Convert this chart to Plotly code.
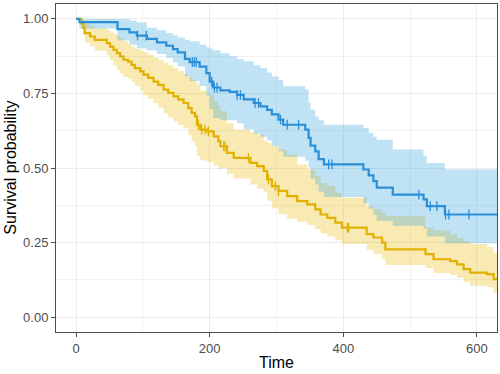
import numpy as np
import plotly.graph_objects as go

# ---- Group 1 (yellow/orange) ----
t1 = [0, 8, 11, 13, 21, 28, 46, 51, 56, 61, 66, 71, 78, 83, 88, 96, 101, 108, 116, 123,
      131, 138, 146, 153, 161, 168, 173, 178, 181, 186, 196, 206, 213, 216, 226, 236, 261,
      271, 281, 286, 293, 303, 316, 331, 346, 358, 366, 376, 388, 398, 435, 445, 458, 463,
      523, 535, 560, 570, 580, 590, 615, 625, 660]
s1 = [1.000, 0.985, 0.970, 0.952, 0.941, 0.930, 0.919, 0.907, 0.896, 0.885, 0.874, 0.863,
      0.857, 0.846, 0.835, 0.824, 0.813, 0.802, 0.790, 0.779, 0.763, 0.752, 0.740, 0.729,
      0.718, 0.701, 0.685, 0.673, 0.645, 0.629, 0.623, 0.606, 0.590, 0.573, 0.551, 0.534,
      0.517, 0.506, 0.490, 0.462, 0.439, 0.423, 0.406, 0.389, 0.378, 0.361, 0.344, 0.333,
      0.317, 0.300, 0.278, 0.267, 0.250, 0.227, 0.211, 0.194, 0.188, 0.177, 0.161, 0.149,
      0.144, 0.127, 0.127]
lo1 = [1.000, 0.965, 0.946, 0.920, 0.908, 0.893, 0.877, 0.862, 0.845, 0.829, 0.817, 0.805,
       0.800, 0.789, 0.775, 0.760, 0.744, 0.731, 0.717, 0.703, 0.683, 0.669, 0.656, 0.644,
       0.633, 0.610, 0.589, 0.573, 0.540, 0.525, 0.520, 0.508, 0.495, 0.500, 0.480, 0.465,
       0.445, 0.430, 0.420, 0.390, 0.365, 0.345, 0.330, 0.320, 0.310, 0.295, 0.280, 0.270,
       0.258, 0.245, 0.225, 0.212, 0.195, 0.175, 0.165, 0.148, 0.142, 0.132, 0.118, 0.105,
       0.100, 0.080, 0.080]
hi1 = [1.000, 1.000, 0.995, 0.985, 0.975, 0.969, 0.963, 0.955, 0.950, 0.945, 0.935, 0.925,
       0.915, 0.907, 0.900, 0.893, 0.888, 0.880, 0.870, 0.863, 0.853, 0.845, 0.835, 0.825,
       0.815, 0.805, 0.796, 0.790, 0.779, 0.760, 0.746, 0.723, 0.707, 0.690, 0.650, 0.629,
       0.620, 0.612, 0.590, 0.584, 0.575, 0.562, 0.545, 0.512, 0.495, 0.473, 0.450, 0.440,
       0.417, 0.400, 0.372, 0.362, 0.350, 0.339, 0.300, 0.290, 0.278, 0.265, 0.255, 0.245,
       0.235, 0.216, 0.216]
c1 = [183, 188, 193, 198, 221, 223, 258, 288, 298, 303, 406, 408]

# ---- Group 2 (blue) ----
t2 = [0, 5, 62, 80, 91, 106, 121, 135, 145, 152, 163, 170, 185, 195, 200, 205, 216, 230,
      241, 251, 266, 276, 286, 293, 303, 310, 343, 348, 351, 358, 363, 371, 430, 438, 445,
      450, 474, 520, 525, 552, 660]
s2 = [1.000, 0.989, 0.966, 0.955, 0.944, 0.933, 0.921, 0.910, 0.899, 0.888, 0.866, 0.855,
      0.840, 0.818, 0.790, 0.770, 0.760, 0.755, 0.745, 0.730, 0.718, 0.707, 0.695, 0.680,
      0.662, 0.645, 0.629, 0.601, 0.575, 0.556, 0.530, 0.512, 0.495, 0.475, 0.456, 0.434,
      0.411, 0.395, 0.372, 0.344, 0.344]
lo2 = [1.000, 0.968, 0.928, 0.913, 0.902, 0.895, 0.882, 0.869, 0.855, 0.841, 0.808, 0.792,
       0.775, 0.742, 0.698, 0.668, 0.660, 0.660, 0.650, 0.630, 0.615, 0.605, 0.592, 0.575,
       0.556, 0.538, 0.524, 0.502, 0.465, 0.445, 0.420, 0.403, 0.382, 0.363, 0.344, 0.322,
       0.306, 0.296, 0.270, 0.248, 0.248]
hi2 = [1.000, 1.000, 1.000, 0.995, 0.988, 0.970, 0.962, 0.953, 0.945, 0.938, 0.930, 0.925,
       0.913, 0.905, 0.900, 0.895, 0.885, 0.875, 0.865, 0.858, 0.845, 0.835, 0.820, 0.807,
       0.795, 0.774, 0.763, 0.720, 0.695, 0.673, 0.660, 0.645, 0.634, 0.618, 0.605, 0.595,
       0.562, 0.540, 0.517, 0.495, 0.495]
c2 = [92, 105, 174, 177, 180, 203, 207, 211, 241, 246, 268, 273, 306, 316, 333, 378, 383,
      513, 530, 540, 553, 558, 588]

x_ticks = [0, 200, 400, 600]
y_ticks = [0, 0.25, 0.5, 0.75, 1.0]
y_ticklabels = ["0.00", "0.25", "0.50", "0.75", "1.00"]

col1, col2 = "#E2B000", "#2B8FD8"
fill1, fill2 = "rgba(231,184,0,0.3)", "rgba(46,159,223,0.3)"


def step_at(ts, ss, q):
    idx = np.searchsorted(np.asarray(ts), np.asarray(q), side="right") - 1
    return np.asarray(ss)[idx]


fig = go.Figure()
for t, lo, hi, fc in [(t1, lo1, hi1, fill1), (t2, lo2, hi2, fill2)]:
    fig.add_trace(go.Scatter(x=t, y=lo, mode="lines", line=dict(width=0, shape="hv"),
                             hoverinfo="skip", showlegend=False))
    fig.add_trace(go.Scatter(x=t, y=hi, mode="lines", line=dict(width=0, shape="hv"),
                             fill="tonexty", fillcolor=fc, hoverinfo="skip", showlegend=False))
for t, s, col in [(t1, s1, col1), (t2, s2, col2)]:
    fig.add_trace(go.Scatter(x=t, y=s, mode="lines", line=dict(color=col, width=2.2, shape="hv"),
                             showlegend=False))
for t, s, c, col in [(t1, s1, c1, col1), (t2, s2, c2, col2)]:
    fig.add_trace(go.Scatter(x=c, y=step_at(t, s, c), mode="markers",
                             marker=dict(symbol="line-ns", size=7, color=col,
                                         line=dict(color=col, width=1.3)),
                             showlegend=False))

FONT = "Liberation Sans, Arial, sans-serif"
axis_common = dict(
    automargin=False,
    showline=True, mirror=True, linecolor="#4d4d4d", linewidth=1,
    ticks="outside", ticklen=4, tickwidth=1, tickcolor="#4d4d4d",
    gridcolor="#EBEBEB", gridwidth=1, zeroline=False,
    tickfont=dict(family=FONT, size=13, color="#4D4D4D"),
)

fig.update_layout(
    width=500, height=374,
    margin=dict(l=56, r=3, t=4, b=42),
    paper_bgcolor="white", plot_bgcolor="white",
    showlegend=False,
    font=dict(family=FONT),
    xaxis=dict(range=[-30, 630], tickvals=x_ticks,
               minor=dict(showgrid=True, gridcolor="#F2F2F2", gridwidth=0.6, ticks="",
                          tickvals=[100, 300, 500]),
               **axis_common),
    yaxis=dict(range=[-0.05, 1.05], tickvals=y_ticks, ticktext=y_ticklabels,
               minor=dict(showgrid=True, gridcolor="#F2F2F2", gridwidth=0.6, ticks="",
                          tickvals=[0.125, 0.375, 0.625, 0.875]),
               **axis_common),
    annotations=[
        dict(text="Time", xref="paper", yref="paper", x=0.5, y=-0.06, yanchor="top",
             xanchor="center", showarrow=False, font=dict(family=FONT, size=16, color="black")),
        dict(text="Survival probability", xref="paper", yref="paper", x=-0.105, y=0.5,
             xanchor="center", yanchor="middle", textangle=-90, showarrow=False,
             font=dict(family=FONT, size=16, color="black")),
    ],
)

fig.write_html("out.html", config={"displayModeBar": False},
               post_script="document.body.style.margin='0';document.body.style.padding='0';")
